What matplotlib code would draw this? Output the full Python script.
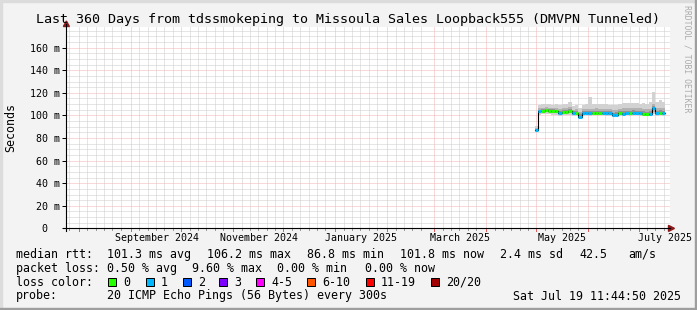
import matplotlib
matplotlib.use("Agg")
import matplotlib.pyplot as plt
import matplotlib.transforms as mtransforms
from matplotlib.patches import Rectangle, Polygon
from matplotlib.lines import Line2D
from datetime import datetime

# ---------------- data ----------------
W, H = 697, 310
START = datetime(2024, 7, 24, 11, 44, 50)
SPAN_DAYS = 360

title = "Last 360 Days from tdssmokeping to Missoula Sales Loopback555 (DMVPN Tunneled)"
y_label = "Seconds"
y_ticks = [0, 20, 40, 60, 80, 100, 120, 140, 160]
y_tick_labels = ["0  ", "20 m", "40 m", "60 m", "80 m", "100 m", "120 m", "140 m", "160 m"]
x_label_months = [(2024, 9), (2024, 11), (2025, 1), (2025, 3), (2025, 5), (2025, 7)]
x_label_texts = ["September 2024", "November 2024", "January 2025", "March 2025", "May 2025", "July 2025"]

# step start (days since START), last value = end of last step
days = [279.5, 281.5, 283.5, 285.5, 287.5, 289.5, 291.5, 293.5, 295.5, 297.5,
        299.5, 301.5, 303.5, 305.5, 307.5, 309.5, 311.5, 313.5, 315.5, 317.5,
        319.5, 321.5, 323.5, 325.5, 327.5, 329.5, 331.5, 333.5, 335.5, 337.5,
        339.5, 341.5, 343.5, 345.5, 347.5, 349.5, 351.5, 353.5, 355.5, 357.5]
median_ms = [87.0, 103.6, 104.2, 104.6, 104.3, 103.8, 103.6, 102.2, 103.2, 103.0,
             103.8, 102.0, 102.2, 99.0, 101.9, 102.0, 101.8, 102.4, 102.5, 102.3,
             102.0, 101.8, 101.9, 100.2, 100.8, 101.9, 101.7, 102.1, 101.8, 102.0,
             102.1, 101.9, 101.5, 101.0, 101.4, 106.2, 101.9, 102.4, 101.8]
loss_count = [1, 1, 0, 0, 0, 0, 0, 1, 0, 0,
              0, 1, 0, 1, 1, 1, 1, 0, 0, 0,
              1, 1, 1, 1, 1, 0, 1, 1, 0, 1,
              1, 1, 0, 0, 1, 1, 1, 0, 1]
smoke_min = [85.0, 100.5, 101.0, 101.5, 101.2, 100.8, 100.5, 99.8, 100.5, 100.2,
             100.8, 99.5, 99.8, 97.5, 99.8, 100.0, 99.8, 100.2, 100.3, 100.2,
             100.0, 99.8, 99.8, 98.5, 99.0, 99.8, 99.6, 100.0, 99.8, 100.0,
             100.0, 99.8, 99.5, 99.2, 99.5, 101.0, 99.8, 100.2, 99.8]
smoke_lo = [86.0, 102.0, 102.8, 103.0, 103.0, 102.5, 102.2, 101.0, 102.0, 101.8,
            102.5, 100.8, 101.0, 98.2, 100.8, 101.0, 100.8, 101.2, 101.4, 101.2,
            101.0, 100.8, 100.9, 99.3, 99.8, 100.8, 100.6, 101.0, 100.8, 101.0,
            101.0, 100.8, 100.5, 100.0, 100.4, 103.0, 100.8, 101.2, 100.8]
smoke_hi = [89.0, 106.5, 107.0, 107.5, 107.0, 106.8, 106.5, 105.5, 106.5, 106.2,
            107.5, 105.2, 105.5, 103.0, 105.5, 105.8, 106.0, 106.0, 106.2, 106.0,
            106.0, 105.8, 105.5, 104.5, 105.0, 106.0, 106.2, 106.5, 106.5, 106.8,
            106.5, 106.5, 106.0, 105.5, 106.0, 110.0, 106.5, 107.0, 106.5]
smoke_max = [91.0, 109.5, 110.0, 110.5, 110.0, 109.5, 109.8, 109.0, 110.0, 110.5,
             111.5, 108.5, 109.0, 107.0, 109.5, 110.0, 116.5, 110.0, 110.5, 110.0,
             110.5, 110.2, 109.5, 109.0, 109.5, 110.5, 111.0, 111.0, 110.8, 111.2,
             111.0, 110.5, 111.0, 110.5, 111.5, 120.5, 112.0, 113.5, 112.0]

loss_labels = ["0", "1", "2", "3", "4-5", "6-10", "11-19", "20/20"]
loss_colors = ["#26ff00", "#00b8ff", "#0059ff", "#7e00ff", "#ff00ff", "#ff5500", "#ff0000", "#a10000"]

legend_rows = [
    [(16, "median rtt:"), (107.3, "101.3 ms avg"), (207.3, "106.2 ms max"), (306.7, "86.8 ms min"),
     (400, "101.8 ms now"), (500, "2.4 ms sd"), (579.3, "42.5"), (628.3, "am/s")],
    [(16, "packet loss:"), (107.3, "0.50 % avg"), (192.0, "9.60 % max"), (277.0, "0.00 % min"),
     (365, "0.00 % now")],
    [(16, "loss color:")],
    [(16, "probe:"), (107.3, "20 ICMP Echo Pings (56 Bytes) every 300s"), (513.3, "Sat Jul 19 11:44:50 2025")],
]
legend_y = [254.3, 268.3, 282.3, 296.0]
loss_box_x = [108.3, 145.7, 182.7, 219.3, 256.0, 307.3, 365.7, 430.7]

# ---------------- layout ----------------
MONO = "DejaVu Sans Mono"
BG = "#f3f3f3"
L_PX, R_PX = 66.4, 669.6
Y0_PX, YT_PX = 228.4, 27.3
YMAX = 178.0


def fx(x):
    return x / W


def fy(y):
    return 1 - y / H


fig = plt.figure(figsize=(W / 100, H / 100), dpi=100, facecolor=BG)

# frame borders
fig.patches.append(Rectangle((0, fy(2)), 1, 2 / H, transform=fig.transFigure, color="#dcdcdc", zorder=0))
fig.patches.append(Rectangle((0, 0), 2 / W, 1, transform=fig.transFigure, color="#dcdcdc", zorder=0))
fig.patches.append(Rectangle((0, 0), 1, 2 / H, transform=fig.transFigure, color="#9e9e9e", zorder=0))
fig.patches.append(Rectangle((1 - 2 / W, 0), 2 / W, 1, transform=fig.transFigure, color="#9e9e9e", zorder=0))

ax = fig.add_axes([fx(L_PX), fy(Y0_PX), (R_PX - L_PX) / W, (Y0_PX - YT_PX) / H])
ax.set_facecolor("white")
ax.set_xlim(0, SPAN_DAYS)
ax.set_ylim(0, YMAX)
for s in ax.spines.values():
    s.set_visible(False)


def day_of(dt):
    return (dt - START).total_seconds() / 86400.0


# month boundaries
month_starts = []
y, m = 2024, 8
while True:
    d = day_of(datetime(y, m, 1))
    if d > SPAN_DAYS:
        break
    month_starts.append(d)
    m += 1
    if m > 12:
        m, y = 1, y + 1

minor_days = []
prev = [day_of(datetime(2024, 7, 1))] + month_starts
nxt = month_starts + [day_of(datetime(2025, 8, 1))]
for a, b in zip(prev, nxt):
    for k in range(1, 6):
        d = a + 5 * k
        if d < b - 3 and 0 < d < SPAN_DAYS:
            minor_days.append(d)

grid_kw = dict(linewidth=0.72, linestyle=(0, (1, 1)), zorder=1)
for v in range(5, int(YMAX) + 1, 5):
    if v % 20:
        ax.axhline(v, color="#cdcdcd", **grid_kw)
for d in minor_days:
    ax.axvline(d, color="#cdcdcd", **grid_kw)
for v in y_ticks[1:]:
    ax.axhline(v, color="#f3b2b2", **grid_kw)
for d in month_starts:
    ax.axvline(d, color="#f3b2b2", **grid_kw)

# smoke
xs = days
def ext(a):
    return list(a) + [a[-1]]
ax.fill_between(xs, ext(smoke_min), ext(smoke_max), step="post", color="#d2d2d2", linewidth=0, zorder=2)
ax.fill_between(xs, ext(smoke_lo), ext(smoke_hi), step="post", color="#b2b2b2", linewidth=0, zorder=2)
mid_lo = [(a + b) / 2 for a, b in zip(smoke_lo, median_ms)]
mid_hi = [(a + b) / 2 for a, b in zip(smoke_hi, median_ms)]
ax.fill_between(xs, ext(mid_lo), ext(mid_hi), step="post", color="#929292", linewidth=0, zorder=2)

# median line
ax.step(xs, ext(median_ms), where="post", color="black", linewidth=0.8, zorder=3)
for i, v in enumerate(median_ms):
    ax.hlines(v, days[i], days[i + 1], color=loss_colors[loss_count[i]], linewidth=2.2, zorder=4)

# ticks / labels
ax.set_yticks(y_ticks)
ax.set_yticklabels(y_tick_labels, fontfamily=MONO, fontsize=7.2)
ax.tick_params(axis="y", length=2.9, width=0.72, pad=2.0, color="black")
lab_pos = [day_of(datetime(yy, mm, 1)) + 15.5 for yy, mm in x_label_months]
ax.set_xticks(lab_pos)
ax.set_xticklabels(x_label_texts, fontfamily=MONO, fontsize=7.2)
ax.tick_params(axis="x", length=0, pad=3.2)

# x-axis small tick marks
bt = mtransforms.blended_transform_factory(ax.transData, fig.transFigure)
for d in minor_days:
    ax.add_line(Line2D([d, d], [fy(Y0_PX), fy(Y0_PX + 2)], transform=bt, color="#999999",
                       linewidth=0.72, clip_on=False))
for d in month_starts:
    ax.add_line(Line2D([d, d], [fy(Y0_PX), fy(Y0_PX + 3)], transform=bt, color="#e06060",
                       linewidth=0.72, clip_on=False))

# axis lines with arrows
fig.add_artist(Line2D([fx(L_PX), fx(L_PX)], [fy(Y0_PX + 2.5), fy(24)], transform=fig.transFigure,
                      color="black", linewidth=0.8))
fig.add_artist(Line2D([fx(L_PX - 3), fx(670)], [fy(Y0_PX), fy(Y0_PX)], transform=fig.transFigure,
                      color="black", linewidth=0.8))
fig.add_artist(Polygon([[fx(L_PX - 3), fy(26.5)], [fx(L_PX + 3), fy(26.5)], [fx(L_PX), fy(21)]],
                       closed=True, transform=fig.transFigure, color="#8b1a1a"))
fig.add_artist(Polygon([[fx(668.5), fy(Y0_PX - 3)], [fx(668.5), fy(Y0_PX + 3)], [fx(674.5), fy(Y0_PX)]],
                       closed=True, transform=fig.transFigure, color="#8b1a1a"))

# texts
fig.text(0.5, fy(19), title, ha="center", va="center", fontfamily=MONO, fontsize=9.6)
fig.text(fx(11), fy(127.5), y_label, rotation=90, ha="center", va="center", fontfamily=MONO, fontsize=8.4)
fig.text(fx(687), fy(59), "RRDTOOL / TOBI OETIKER", rotation=270, ha="center", va="center",
         fontfamily=MONO, fontsize=5.9, color="#ababab")

for row, yy in zip(legend_rows, legend_y):
    for x, s in row:
        fig.text(fx(x), fy(yy), s, ha="left", va="center", fontfamily=MONO, fontsize=8.4)

for bx, lab, col in zip(loss_box_x, loss_labels, loss_colors):
    fig.patches.append(Rectangle((fx(bx), fy(legend_y[2] + 4)), 8 / W, 8 / H, transform=fig.transFigure,
                                 facecolor=col, edgecolor="black", linewidth=0.72))
    fig.text(fx(bx + 15), fy(legend_y[2]), lab, ha="left", va="center", fontfamily=MONO, fontsize=8.4)

fig.savefig("out.png", dpi=100, facecolor=BG)
